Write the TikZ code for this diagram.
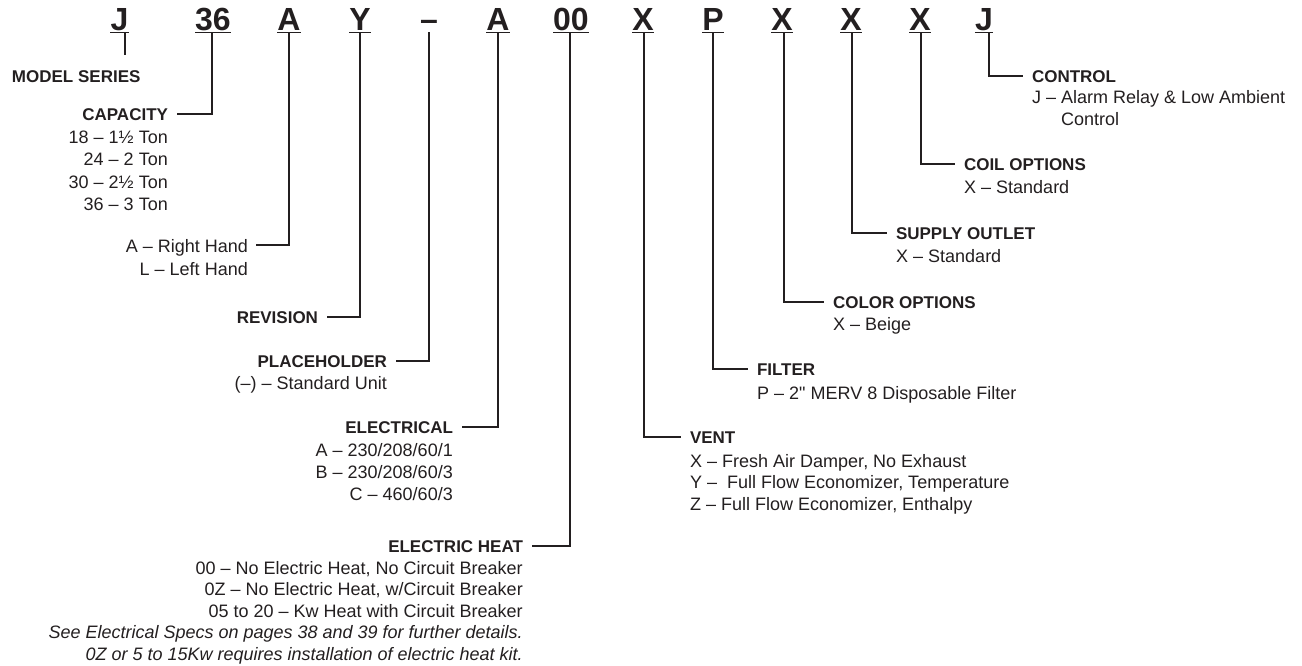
\documentclass[tikz,border=0pt]{standalone}
\usepackage{fontspec}
\setmainfont{Liberation Sans}
\usetikzlibrary{positioning}
\definecolor{ink}{RGB}{35,31,32}
\tikzset{
  code/.style={font=\bfseries\fontsize{32}{32}\selectfont, text=ink, anchor=base,
    inner xsep=0pt, inner ysep=2pt, text depth=0pt},
  uline/.style={draw=ink, line width=1.2pt},
  lead/.style={draw=ink, line width=2pt},
  head/.style={font=\bfseries\fontsize{17}{20}\selectfont, text=ink,
    inner sep=0pt, outer xsep=9pt, text depth=0pt},
  opt/.style={font=\fontsize{18}{22}\selectfont, text=ink, inner sep=0pt},
}
\begin{document}
\begin{tikzpicture}[x=1pt,y=-1pt]
\useasboundingbox (0,0) rectangle (1302,665);
% Code letters
\node[code] (c1) at (119.5,30) {J};
\node[code] (c2) at (213,30) {36};
\node[code] (c3) at (289,30) {A};
\node[code] (c4) at (360,30) {Y};
\node[code] (c5) at (429,30) {–};
\node[code] (c6) at (498,30) {A};
\node[code] (c7) at (571,30) {00};
\node[code] (c8) at (643,30) {X};
\node[code] (c9) at (713,30) {P};
\node[code] (c10) at (782,30) {X};
\node[code] (c11) at (851,30) {X};
\node[code] (c12) at (920,30) {X};
\node[code] (c13) at (984,30) {J};
% Underlines
\draw[uline] (c1.south west) -- (c1.south east);
\draw[uline] (c2.south west) -- (c2.south east);
\draw[uline] (c3.south west) -- (c3.south east);
\draw[uline] (c4.south west) -- (c4.south east);
\draw[uline] (c6.south west) -- (c6.south east);
\draw[uline] (c7.south west) -- (c7.south east);
\draw[uline] (c8.south west) -- (c8.south east);
\draw[uline] (c9.south west) -- (c9.south east);
\draw[uline] (c10.south west) -- (c10.south east);
\draw[uline] (c11.south west) -- (c11.south east);
\draw[uline] (c12.south west) -- (c12.south east);
\draw[uline] (c13.south west) -- (c13.south east);
% Top ends of the leads
\coordinate (t1) at (125,32);
\coordinate (t2) at (212,32);
\coordinate (t3) at (289,32);
\coordinate (t4) at (360,32);
\coordinate (t5) at (429,32);
\coordinate (t6) at (498,32);
\coordinate (t7) at (570,32);
\coordinate (t8) at (644,32);
\coordinate (t9) at (713,32);
\coordinate (t10) at (784,32);
\coordinate (t11) at (852,32);
\coordinate (t12) at (921,32);
\coordinate (t13) at (989,32);

% Model series
\node[head, anchor=base west, outer xsep=0pt] (ser) at (12,82) {MODEL SERIES};
\coordinate (b1) at (125,55);
\draw[lead] (t1) -- (b1);
% Capacity
\node[head, anchor=base east] (cap) at (177,120) {CAPACITY};
\node[opt, align=right, anchor=base east, font=\fontsize{18}{22.5}\selectfont] (capo) at (168,210.5)
  {18 – 1½ Ton\\24 – 2 Ton\\30 – 2½ Ton\\36 – 3 Ton};
\draw[lead] (t2) |- (cap.east);
% Hand
\node[opt, anchor=base east, outer xsep=8pt, text depth=0pt] (hand) at (256,252) {A – Right Hand};
\node[opt, anchor=base east] (handl) at (248,275) {L – Left Hand};
\draw[lead] (t3) |- (hand.east);
% Revision
\node[head, anchor=base east] (rev) at (327,323) {REVISION};
\draw[lead] (t4) |- (rev.east);
% Placeholder
\node[head, anchor=base east] (plc) at (396,367) {PLACEHOLDER};
\node[opt, anchor=base east] (plco) at (387,389) {(–) – Standard Unit};
\draw[lead] (t5) |- (plc.east);
% Electrical
\node[head, anchor=base east] (elc) at (462,433) {ELECTRICAL};
\node[opt, align=right, anchor=base east] (elco) at (453,500)
  {A – 230/208/60/1\\B – 230/208/60/3\\C – 460/60/3};
\draw[lead] (t6) |- (elc.east);
% Electric heat
\node[head, anchor=base east] (heat) at (532,552) {ELECTRIC HEAT};
\node[opt, align=right, anchor=base east, font=\fontsize{18}{21.5}\selectfont] (heato) at (523,660)
  {00 – No Electric Heat, No Circuit Breaker\\0Z – No Electric Heat, w/Circuit Breaker\\
   05 to 20 – Kw Heat with Circuit Breaker\\
   \itshape See Electrical Specs on pages 38 and 39 for further details.\\
   \itshape 0Z or 5 to 15Kw requires installation of electric heat kit.};
\draw[lead] (t7) |- (heat.east);

% Vent
\node[head, anchor=base west] (vent) at (681,443) {VENT};
\node[opt, align=left, anchor=base west, font=\fontsize{18}{21.5}\selectfont] (vento) at (690,510)
  {X – Fresh Air Damper, No Exhaust\\Y – \ Full Flow Economizer, Temperature\\
   Z – Full Flow Economizer, Enthalpy};
\draw[lead] (t8) |- (vent.west);
% Filter
\node[head, anchor=base west] (fil) at (748,375) {FILTER};
\node[opt, anchor=base west] (filo) at (757,399) {P – 2\textquotedbl{} MERV 8 Disposable Filter};
\draw[lead] (t9) |- (fil.west);
% Color options
\node[head, anchor=base west] (col) at (824,308) {COLOR OPTIONS};
\node[opt, anchor=base west] (colo) at (833,330) {X – Beige};
\draw[lead] (t10) |- (col.west);
% Supply outlet
\node[head, anchor=base west] (sup) at (887,239) {SUPPLY OUTLET};
\node[opt, anchor=base west] (supo) at (896,262) {X – Standard};
\draw[lead] (t11) |- (sup.west);
% Coil options
\node[head, anchor=base west] (coil) at (955,170) {COIL OPTIONS};
\node[opt, anchor=base west] (coilo) at (964,193) {X – Standard};
\draw[lead] (t12) |- (coil.west);
% Control
\node[head, anchor=base west] (ctl) at (1023,82) {CONTROL};
\node[opt, align=left, anchor=base west] (ctlo) at (1032,125)
  {J – Alarm Relay \& Low Ambient\\\phantom{J – }Control};
\draw[lead] (t13) |- (ctl.west);
\end{tikzpicture}
\end{document}
